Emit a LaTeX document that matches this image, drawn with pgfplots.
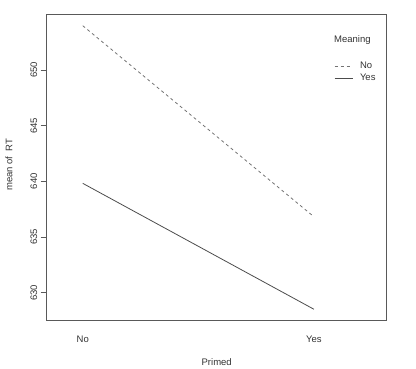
\documentclass[border=0pt]{standalone}
\usepackage{fontspec}
\setmainfont{Liberation Sans}
\usepackage{pgfplots}
\pgfplotsset{compat=1.18}
\begin{document}
\begin{tikzpicture}[x=1pt,y=1pt]
\useasboundingbox (0,0) rectangle (416,368);
\begin{axis}[
  at={(46.7pt,47.3pt)}, anchor=south west,
  scale only axis, width=340pt, height=306pt,
  xmin=0.844, xmax=2.315,
  ymin=627.48, ymax=654.97,
  axis line style={black!65, line width=0.7pt},
  xtick={1,2}, xticklabels={No,Yes},
  x tick style={draw=none},
  xticklabel style={yshift=-6pt},
  ytick={630,635,640,645,650},
  y tick style={black!65, line width=0.7pt},
  tick align=outside, major tick length=6pt,
  yticklabel style={rotate=90, anchor=south, xshift=0pt},
  ytick pos=left, xtick pos=bottom,
  /pgf/number format/assume math mode=true,
  tick label style={font=\fontsize{9.5}{11}\selectfont, text=black!80},
  label style={font=\fontsize{9.5}{11}\selectfont, text=black!80},
  xlabel={Primed},
  ylabel={mean of\ \ RT},
  xlabel style={at={(axis description cs:0.5,-0.135)}, anchor=center},
  ylabel style={at={(axis description cs:-0.111,0.51)}, anchor=center, rotate=0},
  legend style={at={(axis description cs:0.845,0.848)}, anchor=north west,
    draw=none, fill=none, inner sep=0pt, row sep=2pt,
    font=\fontsize{9.5}{11}\selectfont, text=black!80,
    nodes={inner sep=1pt},
    /tikz/every odd column/.append style={column sep=6pt}},
  legend cell align=left,
  legend image code/.code={\draw[#1] (0pt,0pt) -- (18pt,0pt);},
]
\addplot[black!55, line width=0.8pt, dash pattern=on 3pt off 3pt] coordinates {(1,653.98) (2,636.82)};
\addlegendentry{No}
\addplot[black!70, line width=0.8pt] coordinates {(1,639.82) (2,628.51)};
\addlegendentry{Yes}
\node[anchor=west, inner sep=0pt, font=\fontsize{9.5}{11}\selectfont, text=black!80]
  at (axis description cs:0.845,0.917) {Meaning};
\end{axis}
\end{tikzpicture}
\end{document}
